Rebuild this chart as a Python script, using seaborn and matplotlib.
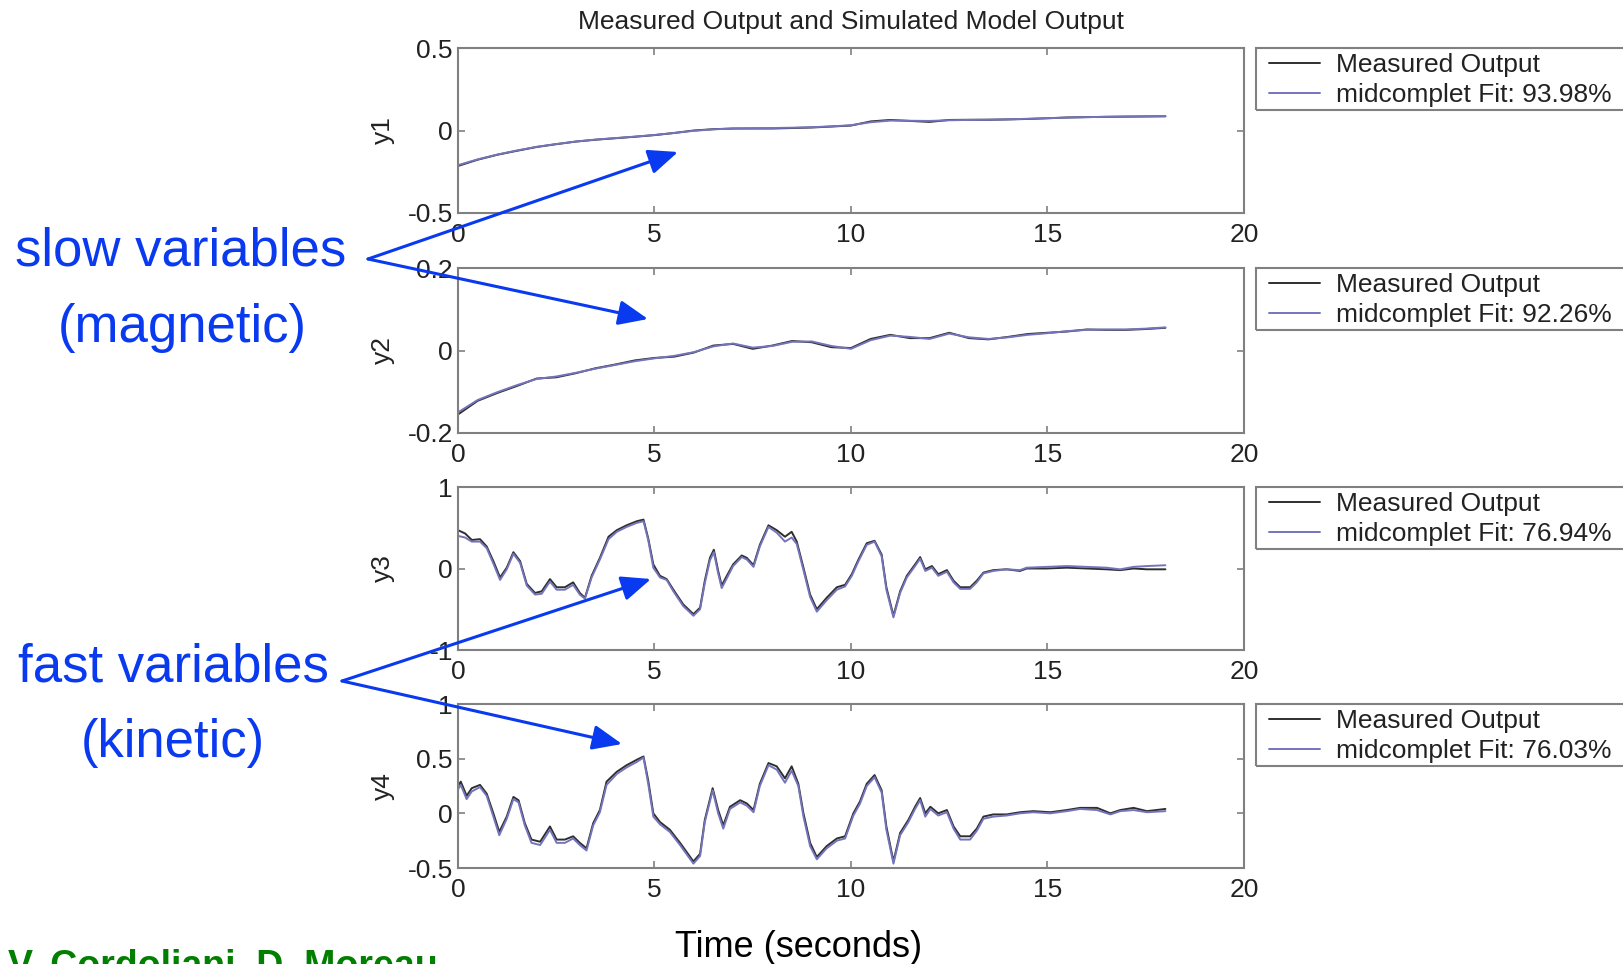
import matplotlib
matplotlib.use("Agg")
import matplotlib.pyplot as plt
from matplotlib.patches import Rectangle, FancyArrowPatch, ArrowStyle
import seaborn as sns

# ---------------- data ----------------
title = "Measured Output and Simulated Model Output"
xlabel = "Time (seconds)"
panel_names = ["y1", "y2", "y3", "y4"]
fit_values = ["93.98", "92.26", "76.94", "76.03"]
measured_label = "Measured Output"
model_name = "midcomplet"

x_ticks = [0, 5, 10, 15, 20]
x_ticklabels = ["0", "5", "10", "15", "20"]
y_ticks = [[-0.5, 0, 0.5], [-0.2, 0, 0.2], [-1, 0, 1], [-0.5, 0, 0.5, 1]]
y_ticklabels = [["-0.5", "0", "0.5"], ["-0.2", "0", "0.2"], ["-1", "0", "1"],
                ["-0.5", "0", "0.5", "1"]]
y_limits = [(-0.5, 0.5), (-0.2, 0.2), (-1, 1), (-0.5, 1)]

t_slow = [0, 0.5, 1, 1.5, 2, 2.5, 3, 3.5, 4, 4.5, 5, 5.5, 6, 6.5, 7, 7.5, 8, 8.5, 9,
          9.5, 10, 10.5, 11, 11.5, 12, 12.5, 13, 13.5, 14, 14.5, 15, 15.5, 16, 16.5,
          17, 17.5, 18]
y1_meas = [-0.215, -0.177, -0.147, -0.123, -0.100, -0.083, -0.067, -0.056, -0.047,
           -0.038, -0.028, -0.015, 0.000, 0.008, 0.012, 0.012, 0.012, 0.015, 0.018,
           0.024, 0.030, 0.055, 0.064, 0.058, 0.052, 0.064, 0.065, 0.065, 0.067,
           0.070, 0.074, 0.079, 0.081, 0.083, 0.084, 0.085, 0.086]
y1_model = [-0.210, -0.175, -0.146, -0.121, -0.099, -0.082, -0.067, -0.055, -0.046,
            -0.037, -0.027, -0.015, -0.002, 0.007, 0.012, 0.014, 0.015, 0.017, 0.020,
            0.025, 0.032, 0.050, 0.060, 0.059, 0.058, 0.062, 0.064, 0.066, 0.068,
            0.071, 0.075, 0.078, 0.081, 0.083, 0.085, 0.086, 0.087]
y2_meas = [-0.155, -0.122, -0.103, -0.086, -0.068, -0.065, -0.055, -0.043, -0.034,
           -0.024, -0.018, -0.015, -0.005, 0.012, 0.016, 0.004, 0.012, 0.023, 0.020,
           0.008, 0.006, 0.028, 0.038, 0.030, 0.030, 0.043, 0.030, 0.027, 0.033,
           0.040, 0.043, 0.046, 0.051, 0.050, 0.050, 0.052, 0.055]
y2_model = [-0.150, -0.120, -0.101, -0.084, -0.069, -0.063, -0.054, -0.044, -0.035,
            -0.026, -0.019, -0.013, -0.004, 0.010, 0.017, 0.007, 0.011, 0.021, 0.022,
            0.011, 0.004, 0.025, 0.036, 0.033, 0.028, 0.041, 0.032, 0.028, 0.032,
            0.038, 0.042, 0.047, 0.050, 0.051, 0.051, 0.053, 0.056]

t3 = [0, 0.18, 0.35, 0.56, 0.73, 0.9, 1.07, 1.24, 1.41, 1.58, 1.75, 1.96, 2.13, 2.34,
      2.51, 2.72, 2.93, 3.1, 3.23, 3.4, 3.61, 3.83, 4.04, 4.29, 4.55, 4.72, 4.84,
      4.97, 5.14, 5.31, 5.48, 5.73, 5.99, 6.16, 6.28, 6.41, 6.51, 6.62, 6.71, 6.84,
      7.0, 7.22, 7.35, 7.52, 7.68, 7.9, 8.11, 8.32, 8.49, 8.62, 8.79, 8.96, 9.13,
      9.38, 9.64, 9.85, 10.02, 10.19, 10.4, 10.6, 10.78, 10.9, 11.08, 11.25, 11.42,
      11.63, 11.76, 11.89, 12.06, 12.22, 12.44, 12.61, 12.78, 13.03, 13.2, 13.37,
      13.62, 13.96, 14.3, 14.47, 14.98, 15.49, 16.0, 16.5, 16.85, 17.19, 17.53, 18.0]
y3_meas = [0.47, 0.43, 0.35, 0.36, 0.27, 0.09, -0.11, 0.01, 0.20, 0.09, -0.19, -0.30,
           -0.28, -0.13, -0.23, -0.23, -0.17, -0.30, -0.36, -0.09, 0.13, 0.39, 0.47,
           0.53, 0.58, 0.60, 0.37, 0.05, -0.09, -0.13, -0.26, -0.44, -0.56, -0.48,
           -0.15, 0.13, 0.23, -0.03, -0.21, -0.09, 0.05, 0.16, 0.13, 0.04, 0.29, 0.53,
           0.47, 0.39, 0.45, 0.33, 0.01, -0.32, -0.50, -0.36, -0.23, -0.20, -0.07,
           0.11, 0.31, 0.34, 0.17, -0.23, -0.58, -0.28, -0.09, 0.05, 0.14, -0.01,
           0.03, -0.07, -0.02, -0.15, -0.23, -0.23, -0.15, -0.05, -0.02, -0.01,
           -0.03, 0.00, 0.00, 0.01, 0.00, -0.01, -0.02, 0.00, -0.01, -0.01]
y3_model = [0.40, 0.38, 0.33, 0.33, 0.25, 0.06, -0.14, -0.01, 0.18, 0.07, -0.21, -0.32,
            -0.31, -0.16, -0.26, -0.26, -0.20, -0.32, -0.37, -0.11, 0.11, 0.36, 0.45,
            0.51, 0.56, 0.58, 0.35, 0.01, -0.11, -0.14, -0.28, -0.46, -0.58, -0.50,
            -0.18, 0.10, 0.20, -0.06, -0.24, -0.12, 0.03, 0.14, 0.11, 0.02, 0.27,
            0.51, 0.44, 0.33, 0.38, 0.30, -0.02, -0.35, -0.53, -0.39, -0.26, -0.22,
            -0.09, 0.09, 0.29, 0.33, 0.15, -0.26, -0.60, -0.30, -0.11, 0.03, 0.12,
            -0.03, 0.01, -0.09, -0.04, -0.17, -0.25, -0.25, -0.17, -0.06, -0.03,
            -0.01, -0.02, 0.01, 0.02, 0.03, 0.02, 0.01, -0.01, 0.02, 0.03, 0.04]

t4 = [0, 0.07, 0.22, 0.35, 0.56, 0.73, 0.9, 1.05, 1.24, 1.41, 1.54, 1.7, 1.87, 2.09,
      2.34, 2.51, 2.72, 2.93, 3.1, 3.27, 3.44, 3.61, 3.78, 4.04, 4.29, 4.55, 4.72,
      4.84, 4.97, 5.14, 5.39, 5.65, 5.99, 6.16, 6.28, 6.48, 6.62, 6.75, 6.92, 7.18,
      7.35, 7.52, 7.68, 7.9, 8.11, 8.32, 8.49, 8.66, 8.79, 8.96, 9.13, 9.38, 9.64,
      9.85, 10.06, 10.23, 10.4, 10.6, 10.78, 10.9, 11.08, 11.25, 11.46, 11.63,
      11.76, 11.89, 12.02, 12.22, 12.44, 12.61, 12.78, 13.03, 13.2, 13.37, 13.62,
      13.96, 14.3, 14.64, 15.07, 15.49, 15.83, 16.26, 16.6, 16.85, 17.19, 17.53, 18.0]
y4_meas = [0.25, 0.29, 0.16, 0.23, 0.26, 0.18, 0.00, -0.17, -0.03, 0.15, 0.12, -0.09,
           -0.24, -0.26, -0.12, -0.24, -0.24, -0.21, -0.27, -0.32, -0.09, 0.03, 0.29,
           0.38, 0.44, 0.49, 0.52, 0.30, 0.00, -0.08, -0.15, -0.27, -0.44, -0.37,
           -0.06, 0.23, 0.03, -0.11, 0.06, 0.12, 0.09, 0.03, 0.27, 0.46, 0.43, 0.32,
           0.43, 0.27, 0.00, -0.27, -0.40, -0.30, -0.23, -0.21, 0.00, 0.11, 0.27,
           0.35, 0.21, -0.12, -0.44, -0.18, -0.06, 0.06, 0.14, 0.00, 0.06, 0.00, 0.03,
           -0.12, -0.21, -0.21, -0.14, -0.03, -0.01, -0.01, 0.01, 0.02, 0.01, 0.03,
           0.05, 0.05, 0.00, 0.03, 0.05, 0.02, 0.04]
y4_model = [0.22, 0.26, 0.13, 0.20, 0.24, 0.16, -0.03, -0.20, -0.05, 0.13, 0.10, -0.11,
            -0.27, -0.29, -0.15, -0.27, -0.27, -0.23, -0.29, -0.34, -0.11, 0.01, 0.26,
            0.36, 0.42, 0.47, 0.51, 0.27, -0.03, -0.10, -0.17, -0.29, -0.46, -0.39,
            -0.08, 0.21, 0.00, -0.14, 0.04, 0.10, 0.07, 0.01, 0.25, 0.44, 0.40, 0.28,
            0.39, 0.25, -0.03, -0.30, -0.42, -0.32, -0.25, -0.23, -0.02, 0.09, 0.25,
            0.33, 0.19, -0.15, -0.46, -0.20, -0.08, 0.04, 0.12, -0.03, 0.04, -0.02,
            0.01, -0.14, -0.24, -0.24, -0.16, -0.05, -0.03, -0.02, 0.00, 0.01, 0.00,
            0.02, 0.04, 0.03, -0.01, 0.02, 0.03, 0.01, 0.02]

slow_label = ["slow variables", "(magnetic)"]
fast_label = ["fast variables", "(kinetic)"]
author = "V. Cordoliani, D. Moreau"

# ---------------- style ----------------
sns.set_theme(style="white")
plt.rcParams["font.family"] = ["Liberation Sans", "DejaVu Sans"]
plt.rcParams["axes.unicode_minus"] = False

W, H = 1624, 964
MEAS_C = "#2e2e2e"
MODEL_C = "#7474bc"
SPINE_C = "#808080"
BLUE = "#0a3af0"
GREEN = "#007f00"
SMALL = 19

fig = plt.figure(figsize=(W / 100, H / 100), dpi=100)
fig.patch.set_facecolor("white")

panel_px = [(48, 213), (268, 433), (487, 650), (704, 868)]
ax_left, ax_right = 458, 1244
series = [(t_slow, y1_meas, y1_model), (t_slow, y2_meas, y2_model),
          (t3, y3_meas, y3_model), (t4, y4_meas, y4_model)]

axes = []
for i, ((top, bot), (tt, ym, yp)) in enumerate(zip(panel_px, series)):
    ax = fig.add_axes([ax_left / W, 1 - bot / H, (ax_right - ax_left) / W, (bot - top) / H])
    axes.append(ax)
    sns.lineplot(x=tt, y=ym, ax=ax, color=MEAS_C, lw=1.4, estimator=None, sort=False,
                 label=measured_label)
    sns.lineplot(x=tt, y=yp, ax=ax, color=MODEL_C, lw=1.4, estimator=None, sort=False,
                 label=f"{model_name} Fit: {fit_values[i]}%")
    ax.set_xlim(0, 20)
    ax.set_ylim(*y_limits[i])
    ax.set_xticks(x_ticks)
    ax.set_xticklabels(x_ticklabels)
    ax.set_yticks(y_ticks[i])
    ax.set_yticklabels(y_ticklabels[i])
    ax.tick_params(axis="both", direction="in", length=5, width=1.2, color=SPINE_C,
                   top=True, right=True, bottom=True, left=True,
                   labelsize=SMALL, labelcolor="#222222")
    ax.tick_params(axis="x", pad=7.5)
    ax.tick_params(axis="y", pad=3.6)
    for s in ax.spines.values():
        s.set_visible(True)
        s.set_color(SPINE_C)
        s.set_linewidth(1.5)
    ax.set_xlabel("")
    ax.set_ylabel(panel_names[i], fontsize=SMALL, color="#222222")
    ax.yaxis.set_label_coords(-0.080, 0.5)
    h = bot - top
    leg = ax.legend(loc="upper left", bbox_to_anchor=((1269 - ax_left) / 786, 1 - 5 / h),
                    frameon=False, fontsize=SMALL, handlelength=1.93, handletextpad=0.6,
                    borderpad=0, borderaxespad=0, labelspacing=0.23)
    for txt in leg.get_texts():
        txt.set_color("#222222")
    ax.add_patch(Rectangle(((1256 - ax_left) / 786, 1 - 62 / h), 0.6, 62 / h,
                           transform=ax.transAxes, fill=False, ec=SPINE_C, lw=1.5,
                           clip_on=False))

axes[0].set_title(title, fontsize=SMALL, color="#222222", pad=13.5)

fig.text(799 / W, 1 - 957 / H, xlabel, fontsize=26, ha="center", va="baseline",
         color="black")

# annotations
fig.text(181 / W, 1 - 266 / H, slow_label[0], fontsize=38, color=BLUE, ha="center",
         va="baseline")
fig.text(182 / W, 1 - 342 / H, slow_label[1], fontsize=38, color=BLUE, ha="center",
         va="baseline")
fig.text(173.5 / W, 1 - 682 / H, fast_label[0], fontsize=38, color=BLUE, ha="center",
         va="baseline")
fig.text(173 / W, 1 - 757 / H, fast_label[1], fontsize=38, color=BLUE, ha="center",
         va="baseline")

arrow_style = ArrowStyle("-|>", head_length=0.9, head_width=0.38)
for start, end in [((368, 259), (678, 152)), ((368, 259), (648, 319)),
                   ((342, 681), (651, 579)), ((342, 681), (622, 744))]:
    fig.add_artist(FancyArrowPatch((start[0] / W, 1 - start[1] / H),
                                   (end[0] / W, 1 - end[1] / H),
                                   transform=fig.transFigure, arrowstyle=arrow_style,
                                   mutation_scale=20, lw=2.2, color=BLUE,
                                   shrinkA=0, shrinkB=0))

fig.text(8 / W, 1 - 977 / H, author, fontsize=27, fontweight="bold", color=GREEN,
         ha="left", va="baseline")

fig.savefig("out.png", dpi=100, facecolor="white")
